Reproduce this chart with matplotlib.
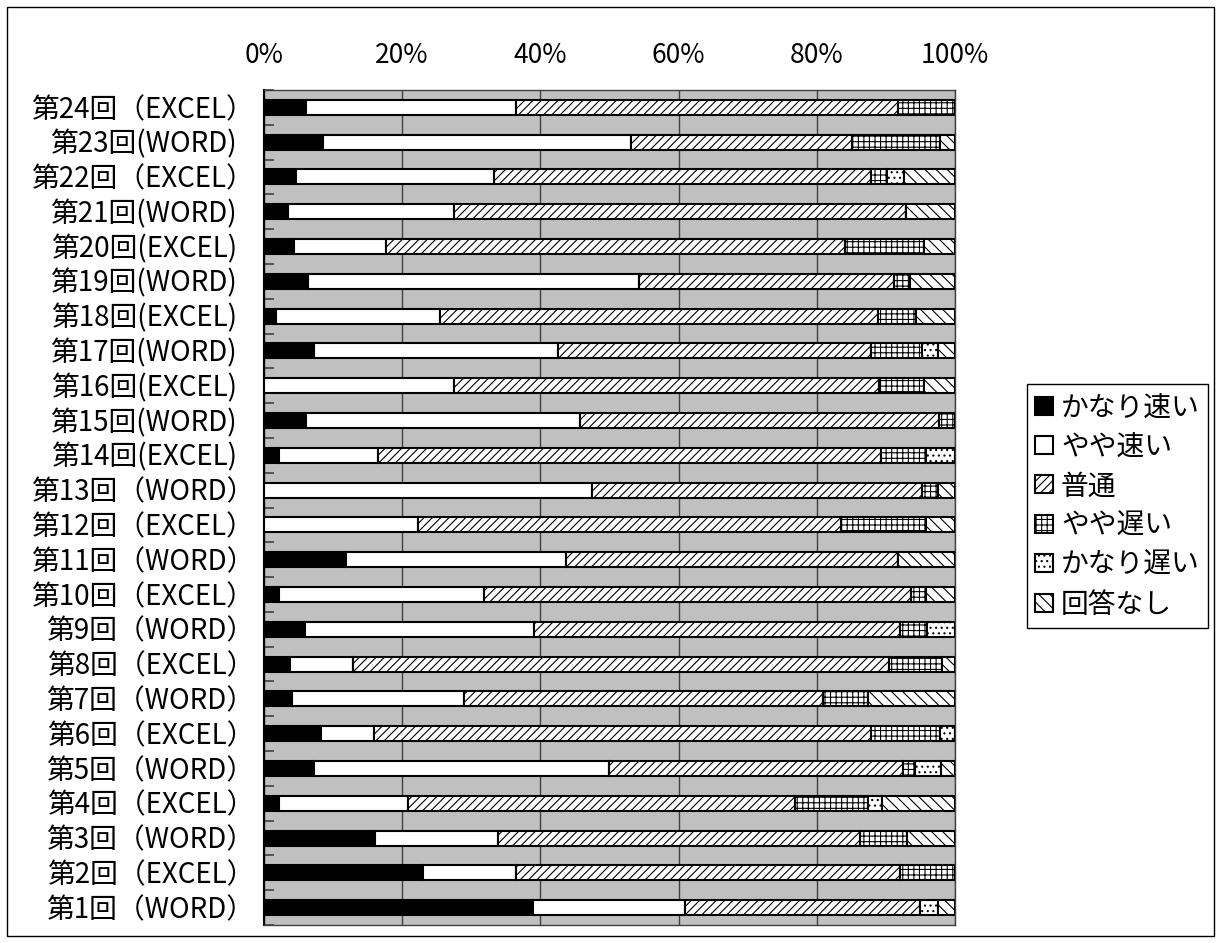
import matplotlib.pyplot as plt
from matplotlib.patches import Rectangle
from matplotlib.transforms import ScaledTranslation

plt.rcParams['font.family'] = ['Noto Sans CJK JP', 'DejaVu Sans']
plt.rcParams['hatch.linewidth'] = 0.8

# 第1回 (bottom) ... 第24回 (top)
labels = ['第1回（WORD）', '第2回（EXCEL）', '第3回（WORD）', '第4回（EXCEL）',
          '第5回（WORD）', '第6回（EXCEL）', '第7回（WORD）', '第8回（EXCEL）',
          '第9回（WORD）', '第10回（EXCEL）', '第11回（WORD）', '第12回（EXCEL）',
          '第13回（WORD）', '第14回(EXCEL)', '第15回(WORD)', '第16回(EXCEL)',
          '第17回(WORD)', '第18回(EXCEL)', '第19回(WORD)', '第20回(EXCEL)',
          '第21回(WORD)', '第22回（EXCEL）', '第23回(WORD)', '第24回（EXCEL）']

kanari_hayai = [38.9, 23.0, 16.0, 2.1, 7.3, 8.2, 4.1, 3.7, 5.9, 2.1, 11.9, 0.0,
                0.0, 2.1, 6.1, 0.0, 7.3, 1.8, 6.3, 4.3, 3.5, 4.6, 8.5, 6.1]
yaya_hayai = [22.0, 13.5, 17.9, 18.7, 42.6, 7.7, 24.8, 9.2, 33.2, 29.8, 31.8, 22.3,
              47.5, 14.4, 39.7, 27.5, 35.3, 23.7, 47.9, 13.3, 24.0, 28.7, 44.6, 30.4]
futsuu = [34.1, 55.6, 52.3, 56.1, 42.6, 72.0, 52.0, 77.6, 52.9, 61.8, 48.0, 61.2,
          47.7, 72.8, 51.9, 61.5, 45.3, 63.4, 36.9, 66.5, 65.4, 54.6, 32.0, 55.3]
yaya_osoi = [0.0, 7.9, 6.9, 10.5, 1.7, 10.0, 6.5, 7.6, 4.0, 2.1, 0.0, 12.3,
             2.3, 6.5, 2.3, 6.5, 7.3, 5.4, 2.4, 11.4, 0.0, 2.3, 12.7, 8.2]
kanari_osoi = [2.5, 0.0, 0.0, 2.0, 3.8, 2.1, 0.0, 0.0, 4.0, 0.0, 0.0, 0.0,
               0.0, 4.2, 0.0, 0.0, 2.3, 0.0, 0.0, 0.0, 0.0, 2.4, 0.0, 0.0]
kaitou_nashi = [2.5, 0.0, 6.9, 10.6, 2.0, 0.0, 12.6, 1.9, 0.0, 4.2, 8.3, 4.2,
                2.5, 0.0, 0.0, 4.5, 2.5, 5.7, 6.5, 4.5, 7.1, 7.4, 2.2, 0.0]

series = [
    ('かなり速い', kanari_hayai, 'black', ''),
    ('やや速い', yaya_hayai, 'white', ''),
    ('普通', futsuu, 'white', '////'),
    ('やや遅い', yaya_osoi, 'white', '+++'),
    ('かなり遅い', kanari_osoi, 'white', '...'),
    ('回答なし', kaitou_nashi, 'white', '\\\\\\'),
]

fig = plt.figure(figsize=(12.19, 9.43), dpi=100)
ax = fig.add_axes([264 / 1219, 1 - 925 / 943, (955 - 264) / 1219, (925 - 90) / 943])
ax.set_facecolor('#c0c0c0')

y = list(range(len(labels)))
left = [0.0] * len(labels)
for name, vals, color, hatch in series:
    ax.barh(y, vals, left=left, height=0.43, color=color, edgecolor='black',
            linewidth=1.5, hatch=hatch, label=name, zorder=3)
    left = [a + b for a, b in zip(left, vals)]

ax.set_xlim(0, 100)
ax.set_ylim(-0.5, len(labels) - 0.5)
ax.set_xticks([0, 20, 40, 60, 80, 100])
ax.set_xticklabels(['0%', '20%', '40%', '60%', '80%', '100%'])
ax.xaxis.tick_top()
ax.tick_params(axis='x', length=0, pad=15, labelsize=19)

# category labels drawn as text so the full-width closing paren lines up
ax.set_yticks(y)
ax.set_yticklabels([])
ax.tick_params(axis='y', which='major', length=0)
base = ax.get_yaxis_transform()
for yi, lab in zip(y, labels):
    dx = -27 if lab.endswith(')') else -10
    tr = base + ScaledTranslation(dx / 100, -0.025, fig.dpi_scale_trans)
    ax.text(0, yi, lab, transform=tr, ha='right', va='center', fontsize=20)

ax.set_yticks([i - 0.5 for i in range(len(labels) + 1)], minor=True)
ax.tick_params(axis='y', which='minor', direction='in', length=7, width=1.2, color='#404040')
ax.grid(axis='x', color='#404040', linewidth=1, zorder=1)
ax.set_axisbelow(True)
for side in ['top', 'right', 'bottom']:
    ax.spines[side].set_color('#404040')
    ax.spines[side].set_linewidth(1)
ax.spines['left'].set_color('black')
ax.spines['left'].set_linewidth(1.5)

leg = ax.legend(loc='upper left', bbox_to_anchor=(1027 / 1219, 1 - 384 / 943),
                bbox_transform=fig.transFigure, borderaxespad=0, fontsize=20,
                frameon=True, fancybox=False, edgecolor='black', framealpha=1,
                handlelength=0.62, handleheight=0.62, handletextpad=0.3,
                labelspacing=0.34, borderpad=0.3)
leg.get_frame().set_linewidth(1)

fig.patches.append(Rectangle((7 / 1219, 7 / 943), 1207 / 1219, 929 / 943,
                             transform=fig.transFigure, fill=False,
                             edgecolor='black', linewidth=1))

fig.savefig('out.png', dpi=100)
